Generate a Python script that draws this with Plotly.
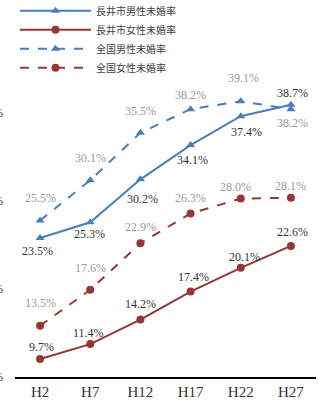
import plotly.graph_objects as go

years = ["H2", "H7", "H12", "H17", "H22", "H27"]
nagai_male = [23.5, 25.3, 30.2, 34.1, 37.4, 38.7]
nagai_female = [9.7, 11.4, 14.2, 17.4, 20.1, 22.6]
japan_male = [25.5, 30.1, 35.5, 38.2, 39.1, 38.2]
japan_female = [13.5, 17.6, 22.9, 26.3, 28.0, 28.1]
series_names = ["長井市男性未婚率", "長井市女性未婚率", "全国男性未婚率", "全国女性未婚率"]

# label offsets (px) — styling only
off_nm = [(-3, -13), (-1, -12), (2, -20), (2, -15), (6, -16), (2, 12)]
off_nf = [(1, 12), (-2, 11), (0, 16), (3, 15), (4, 11), (2, 14)]
off_jm = [(0, 23), (0, 22), (0, 22), (0, 14), (3, 23), (2, -14)]
off_jf = [(0, 23), (0, 22), (0, 16), (0, 15), (-5, 12), (0, 12)]

BLUE = "#4A7EBB"
RED = "#953735"
DARK = "#333333"
GRAY = "#999999"
SERIF = "Liberation Serif"

fig = go.Figure()
specs = [
    (series_names[0], nagai_male, BLUE, "solid", "triangle-up", DARK, off_nm),
    (series_names[1], nagai_female, RED, "solid", "circle", DARK, off_nf),
    (series_names[2], japan_male, BLUE, "dash", "triangle-up", GRAY, off_jm),
    (series_names[3], japan_female, RED, "dash", "circle", GRAY, off_jf),
]
annotations = []
for name, vals, col, dash, sym, tcol, offs in specs:
    fig.add_trace(go.Scatter(
        x=years, y=vals, name=name, mode="lines+markers",
        line=dict(color=col, width=2, dash=dash),
        marker=dict(symbol=sym, size=8, color=col),
    ))
    for xv, yv, (dx, dy) in zip(years, vals, offs):
        annotations.append(dict(
            x=xv, y=yv, xref="x", yref="y", text=f"{yv:.1f}%",
            showarrow=False, xshift=dx, yshift=dy,
            font=dict(family=SERIF, size=12, color=tcol),
        ))

fig.update_layout(
    width=318, height=404,
    margin=dict(l=15, r=2, t=25, b=27, autoexpand=False),
    paper_bgcolor="white", plot_bgcolor="white",
    showlegend=True,
    legend=dict(x=0.0, y=1.082, xanchor="left", yanchor="top",
                bgcolor="rgba(0,0,0,0)",
                font=dict(family="Noto Sans CJK JP", size=10, color="#404040"),
                itemwidth=71, tracegroupgap=0),
    annotations=annotations,
    xaxis=dict(type="category", range=[-0.5, 5.5], showgrid=False,
               showline=True, linecolor="black", linewidth=2,
               ticks="", ticklabelstandoff=0, automargin=False,
               tickfont=dict(family=SERIF, size=15, color="#333333")),
    yaxis=dict(range=[7.65, 47.8], showgrid=False, zeroline=False,
               showline=False, ticks="", automargin=False,
               tickvals=[7.65, 17.7, 27.75, 37.8],
               ticktext=["0%", "10%", "20%", "30%"],
               ticklabelstandoff=11,
               tickfont=dict(family=SERIF, size=12, color="#333333")),
)

fig.write_html("out.html", config={"displayModeBar": False},
               post_script="document.body.style.margin='0';document.body.style.overflow='hidden';")
